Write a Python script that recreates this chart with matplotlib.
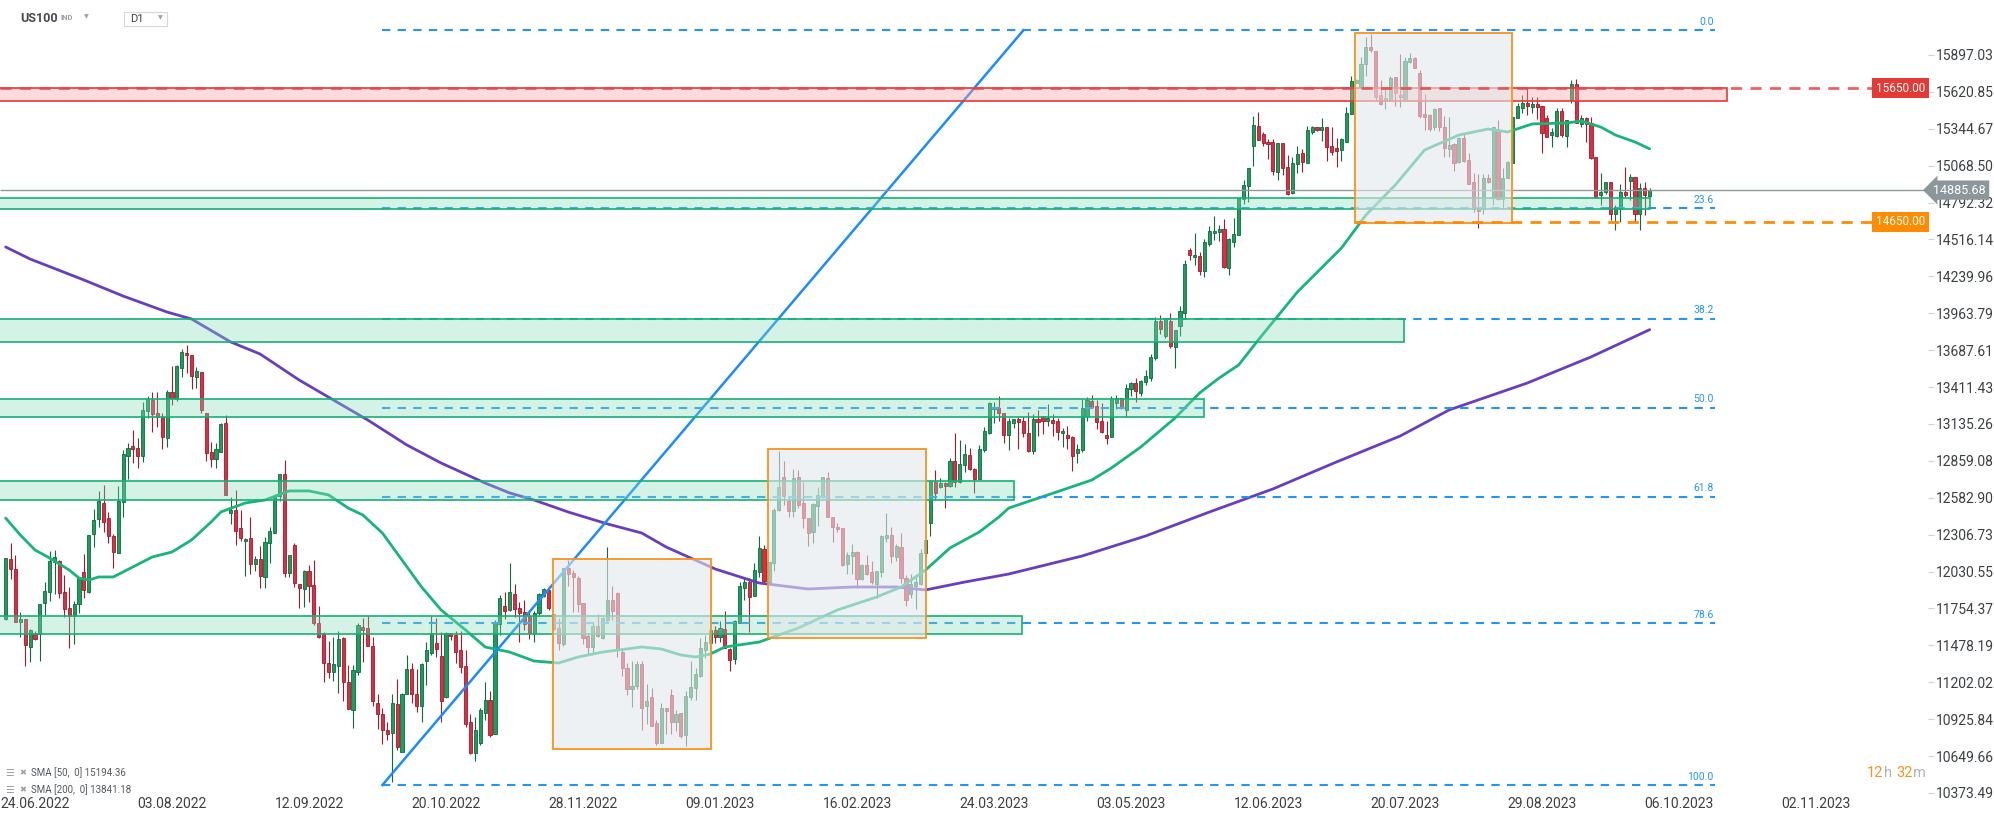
import numpy as np
import matplotlib
matplotlib.use("Agg")
import matplotlib.pyplot as plt
import matplotlib.transforms as mtransforms
from matplotlib.patches import Rectangle

plt.rcParams['font.family'] = ['Roboto', 'DejaVu Sans']

# US100 daily candles, bar 0 = 24.06.2022 (first visible bar is -6)
first_bar = -6
opens = [
    11679, 12121, 12046, 11654, 11674, 11466, 11574, 11561, 11796, 11879,
    12104, 12109, 11879, 11761, 11699, 11791, 12026, 11879, 12309, 12421,
    12541, 12429, 12296, 12166, 12554, 12899, 12971, 12959, 12899, 13231,
    13316, 13219, 13191, 13029, 13376, 13324, 13551, 13666, 13654, 13486,
    13526, 13216, 12924, 12871, 12924, 13141, 12466, 12491, 12354, 12259,
    12279, 12084, 12121, 11993, 12243, 12318, 12598, 12763, 12023, 12231,
    11938, 11898, 12036, 11931, 11643, 11568, 11343, 11281, 11326, 11531,
    11201, 10998, 11281, 11613, 11606, 11473, 11043, 10961, 10848, 10823,
    11038, 10681, 11113, 11298, 11113, 11026, 11363, 11423, 11493, 11398,
    11088, 11568, 11556, 11443, 11323, 10906, 10676, 10748, 10973, 11068,
    10811, 11638, 11773, 11743, 11863, 11756, 11726, 11698, 11568, 11718,
    11848, 11893, 11711, 11606, 11488, 12056, 12023, 11986, 11793, 11548,
    11468, 11623, 11531, 11668, 11818, 11873, 11431, 11306, 11151, 11176,
    11338, 11023, 11088, 10898, 10748, 11006, 11106, 10906, 10973, 10806,
    11093, 11156, 11248, 11443, 11498, 11593, 11543, 11598, 11451, 11373,
    11648, 11906, 11956, 11851, 12026, 12199, 11954, 12091, 12491, 12736,
    12561, 12486, 12736, 12541, 12429, 12324, 12521, 12599, 12729, 12441,
    12366, 12354, 12084, 12149, 12174, 11974, 12079, 12024, 11941, 12024,
    12279, 12304, 12141, 12211, 11984, 11861, 11921, 11941, 12166, 12396,
    12704, 12666, 12691, 12674, 12859, 12699, 12829, 12904, 12799, 12724,
    12941, 13066, 13249, 13254, 13216, 13049, 13139, 13172, 13157, 13064,
    12934, 13172, 13197, 13159, 13164, 13157, 13064, 13052, 13039, 12919,
    12939, 13197, 13307, 13272, 13157, 13052, 13039, 13294, 13327, 13239,
    13394, 13444, 13364, 13447, 13482, 13627, 13907, 13794, 13907, 13714,
    13869, 13964, 14439, 14384, 14394, 14277, 14482, 14564, 14569, 14597,
    14302, 14494, 14547, 14819, 14914, 15214, 15364, 15303, 15243, 15243,
    15023, 15235, 15055, 14865, 15078, 15160, 15090, 15323, 15360, 15335,
    15355, 15215, 15198, 15185, 15248, 15453, 15690, 15660, 15828, 15955,
    15928, 15598, 15560, 15560, 15735, 15598, 15568, 15843, 15873, 15760,
    15453, 15448, 15360, 15498, 15355, 15193, 15228, 15098, 15278, 15110,
    14948, 14748, 14748, 14973, 14823, 15335, 14818, 14978, 15090, 15423,
    15503, 15535, 15510, 15530, 15515, 15423, 15298, 15293, 15478, 15293,
    15560, 15680, 15378, 15423, 15385, 15130, 14848, 14868, 14943, 14710,
    14748, 14873, 14955, 14985, 14705, 14898, 14843,
]
highs = [
    12129, 12246, 12154, 11729, 11674, 11599, 11584, 11791, 11954, 12184,
    12191, 12115, 12004, 11916, 11809, 11991, 12161, 12304, 12499, 12636,
    12679, 12474, 12311, 12671, 12941, 12996, 13091, 13029, 13296, 13341,
    13371, 13371, 13216, 13386, 13566, 13576, 13699, 13726, 13654, 13564,
    13526, 13216, 13001, 12996, 13146, 13204, 12591, 12641, 12491, 12279,
    12436, 12146, 12221, 12286, 12361, 12611, 12763, 12868, 12156, 12248,
    11938, 12043, 12076, 12118, 11776, 11576, 11513, 11543, 11588, 11538,
    11331, 11331, 11648, 11681, 11701, 11543, 11111, 11006, 10906, 11111,
    11226, 11118, 11406, 11348, 11301, 11348, 11506, 11698, 11681, 11581,
    11576, 11568, 11588, 11588, 11443, 10968, 10943, 11006, 11201, 11138,
    11668, 11856, 11876, 12093, 11938, 11803, 11818, 11738, 11738, 11873,
    11906, 11898, 11711, 11681, 12056, 12118, 12043, 11998, 11793, 11568,
    11656, 11711, 11693, 12216, 11923, 11881, 11448, 11343, 11361, 11363,
    11363, 11186, 11156, 10918, 11048, 11006, 11151, 10993, 10973, 11136,
    11361, 11306, 11536, 11556, 11598, 11623, 11661, 11736, 11456, 11668,
    11956, 11988, 11981, 12093, 12293, 12229, 12099, 12509, 12934, 12859,
    12591, 12796, 12791, 12704, 12429, 12541, 12661, 12736, 12774, 12441,
    12391, 12354, 12179, 12236, 12186, 12084, 12154, 12111, 12034, 12304,
    12466, 12361, 12236, 12321, 12004, 12016, 11996, 12196, 12278, 12716,
    12791, 12729, 12704, 12879, 13071, 13016, 12984, 12954, 12804, 12979,
    13111, 13296, 13296, 13341, 13221, 13179, 13169, 13189, 13189, 13222,
    13207, 13239, 13197, 13284, 13209, 13182, 13107, 13119, 13047, 12989,
    13322, 13339, 13352, 13314, 13289, 13157, 13344, 13352, 13327, 13432,
    13452, 13482, 13464, 13539, 13657, 13934, 13952, 13927, 13964, 13839,
    14022, 14359, 14452, 14564, 14422, 14522, 14619, 14689, 14622, 14672,
    14527, 14677, 14827, 14964, 15052, 15439, 15472, 15323, 15265, 15268,
    15235, 15235, 15148, 15130, 15215, 15193, 15365, 15368, 15360, 15428,
    15355, 15360, 15273, 15278, 15510, 15740, 15715, 15880, 16035, 16053,
    15928, 15710, 15648, 15740, 15735, 15905, 15880, 15915, 15885, 15785,
    15603, 15453, 15498, 15498, 15440, 15435, 15235, 15285, 15310, 15160,
    15015, 15010, 15010, 15010, 15355, 15410, 15048, 15103, 15435, 15535,
    15598, 15655, 15585, 15585, 15515, 15448, 15348, 15498, 15498, 15410,
    15710, 15718, 15448, 15435, 15435, 15135, 15015, 14948, 14948, 14773,
    14935, 15060, 15010, 14985, 14940, 14948, 14898,
]
lows = [
    11666, 11978, 11654, 11541, 11324, 11354, 11521, 11361, 11704, 11811,
    11861, 11834, 11691, 11459, 11486, 11721, 11834, 11871, 12216, 12361,
    12329, 12246, 12054, 12166, 12436, 12726, 12841, 12804, 12854, 13179,
    13074, 13109, 12951, 12966, 13274, 13304, 13486, 13516, 13396, 13401,
    13216, 12861, 12811, 12809, 12924, 12601, 12386, 12231, 12261, 11999,
    12016, 12036, 11911, 11906, 12098, 12318, 12556, 11988, 11988, 11918,
    11761, 11768, 11806, 11631, 11531, 11206, 11236, 11211, 11118, 11063,
    11001, 10863, 11256, 11351, 11476, 11023, 10851, 10743, 10768, 10456,
    10693, 10681, 11113, 11043, 10981, 10906, 11181, 11406, 11388, 10901,
    11081, 11518, 11343, 11268, 10868, 10663, 10613, 10731, 10923, 10793,
    10811, 11556, 11676, 11738, 11688, 11506, 11593, 11526, 11506, 11706,
    11843, 11743, 11593, 11443, 11473, 11926, 11726, 11726, 11486, 11406,
    11423, 11538, 11523, 11656, 11668, 11388, 11248, 11106, 11018, 11151,
    10843, 10893, 10873, 10736, 10748, 10818, 10818, 10838, 10781, 10726,
    11068, 11068, 11238, 11381, 11368, 11498, 11501, 11456, 11288, 11338,
    11643, 11818, 11581, 11851, 11993, 11941, 11954, 12036, 12486, 12529,
    12441, 12441, 12504, 12354, 12224, 12246, 12374, 12579, 12441, 12249,
    12329, 12071, 12016, 12009, 11911, 11966, 12004, 11934, 11834, 11991,
    12254, 12091, 12111, 11946, 11774, 11829, 11749, 11929, 12140, 12299,
    12566, 12654, 12509, 12666, 12661, 12691, 12774, 12791, 12621, 12724,
    12929, 13059, 13141, 13154, 12996, 12941, 13102, 12947, 13039, 12922,
    12909, 13047, 13059, 13122, 13047, 13019, 12964, 12947, 12784, 12844,
    12922, 13157, 13252, 13094, 13064, 12984, 13039, 13247, 13247, 13189,
    13347, 13297, 13344, 13427, 13459, 13614, 13807, 13777, 13702, 13557,
    13794, 13927, 14359, 14327, 14247, 14239, 14464, 14509, 14502, 14302,
    14252, 14457, 14547, 14784, 14794, 15064, 15259, 15218, 15118, 14998,
    14960, 14998, 14848, 14860, 15015, 15023, 15090, 15305, 15328, 15253,
    15103, 15148, 15060, 15105, 15248, 15453, 15685, 15660, 15740, 15918,
    15560, 15523, 15490, 15555, 15515, 15510, 15565, 15835, 15798, 15423,
    15335, 15328, 15335, 15330, 15135, 15135, 15028, 15085, 15095, 14928,
    14723, 14603, 14710, 14940, 14773, 14810, 14743, 14973, 15090, 15423,
    15460, 15448, 15460, 15418, 15160, 15280, 15210, 15285, 15285, 15210,
    15535, 15385, 15360, 15248, 15118, 14830, 14773, 14860, 14660, 14585,
    14648, 14835, 14810, 14648, 14585, 14698, 14835,
]
closes = [
    12129, 12046, 11654, 11674, 11484, 11591, 11529, 11791, 11884, 12109,
    12136, 11871, 11754, 11699, 11791, 11986, 11891, 12304, 12416, 12561,
    12399, 12299, 12174, 12559, 12909, 12959, 12951, 12899, 13241, 13324,
    13209, 13191, 13034, 13374, 13329, 13571, 13674, 13649, 13491, 13534,
    13241, 12916, 12871, 12946, 13136, 12601, 12491, 12336, 12279, 12274,
    12084, 12121, 11996, 12251, 12331, 12586, 12763, 12023, 12156, 11948,
    11906, 12036, 11926, 11643, 11538, 11343, 11281, 11336, 11526, 11201,
    11001, 11293, 11631, 11593, 11476, 11063, 10961, 10848, 10818, 11043,
    10718, 11113, 11298, 11113, 11026, 11336, 11443, 11568, 11448, 11063,
    11568, 11548, 11431, 11313, 10888, 10673, 10848, 10993, 11068, 10806,
    11656, 11831, 11738, 11876, 11748, 11718, 11638, 11568, 11718, 11863,
    11901, 11756, 11598, 11493, 12056, 12011, 11988, 11786, 11536, 11468,
    11623, 11548, 11681, 11818, 11738, 11443, 11311, 11151, 11173, 11338,
    11013, 11061, 10876, 10748, 11006, 10986, 10906, 10963, 10801, 11098,
    11163, 11263, 11456, 11501, 11593, 11538, 11606, 11461, 11368, 11661,
    11923, 11956, 11843, 12043, 12206, 11959, 12099, 12491, 12661, 12599,
    12484, 12729, 12529, 12429, 12321, 12536, 12604, 12736, 12441, 12366,
    12346, 12079, 12154, 12174, 11974, 12079, 12011, 11954, 12034, 12299,
    12304, 12146, 12221, 11979, 11816, 11934, 11954, 12166, 12266, 12709,
    12621, 12691, 12674, 12859, 12699, 12834, 12909, 12796, 12724, 12946,
    13084, 13291, 13261, 13216, 13049, 13154, 13169, 13147, 13064, 12932,
    13172, 13152, 13159, 13182, 13144, 13072, 13082, 13027, 12897, 12947,
    13257, 13314, 13264, 13147, 13072, 13027, 13319, 13332, 13257, 13407,
    13444, 13382, 13459, 13497, 13634, 13907, 13844, 13919, 13719, 13839,
    13982, 14334, 14402, 14402, 14277, 14497, 14582, 14582, 14597, 14307,
    14522, 14557, 14827, 14927, 15052, 15372, 15264, 15235, 15228, 15030,
    15235, 15048, 14860, 15085, 15155, 15098, 15335, 15355, 15335, 15360,
    15210, 15173, 15178, 15265, 15460, 15703, 15710, 15828, 15960, 15935,
    15585, 15530, 15578, 15728, 15615, 15580, 15853, 15873, 15803, 15443,
    15435, 15343, 15493, 15355, 15198, 15223, 15090, 15278, 15103, 14928,
    14743, 14730, 14973, 14948, 15355, 14818, 14973, 15098, 15430, 15515,
    15535, 15515, 15530, 15510, 15315, 15280, 15323, 15478, 15298, 15410,
    15680, 15390, 15423, 15378, 15123, 14835, 14868, 14948, 14710, 14760,
    14873, 14848, 14985, 14705, 14898, 14848, 14885.68,
]

# moving averages (bar index, value)
sma50_bars = [-6, -3, 0, 3, 7, 9, 11, 13, 16, 20, 24, 28, 32, 36, 38, 43, 47, 52, 56,
              60, 64, 67, 71, 75, 79, 83, 88, 92, 97, 102, 107, 111, 116, 124, 128,
              132, 135, 138, 141, 148, 156, 164, 172, 177, 182, 187, 193, 197, 199,
              207, 216, 220, 226, 233, 238, 242, 246, 250, 258, 267, 272, 278, 284,
              291, 297, 301, 306, 313, 316, 320, 323, 327, 330]
sma50_vals = [12431, 12304, 12192, 12132, 12042, 11982, 11967, 11990, 11990, 12065,
              12140, 12177, 12267, 12402, 12477, 12544, 12566, 12634, 12634, 12604,
              12506, 12454, 12319, 12117, 11915, 11743, 11593, 11466, 11428, 11361,
              11346, 11391, 11428, 11466, 11451, 11406, 11391, 11413, 11466, 11503,
              11608, 11743, 11840, 11915, 12042, 12207, 12327, 12439, 12506, 12604,
              12716, 12806, 12963, 13180, 13367, 13479, 13577, 13764, 14123, 14452,
              14699, 14924, 15186, 15298, 15343, 15321, 15381, 15388, 15403, 15358,
              15298, 15246, 15194.36]
sma200_bars = [-6, -1, 10, 18, 27, 32, 40, 46, 54, 68, 76, 83, 92, 97, 102, 109, 117,
               124, 129, 139, 148, 158, 167, 176, 182, 190, 199, 214, 227, 240, 253,
               266, 279, 289, 305, 318, 330]
sma200_vals = [14460, 14370, 14213, 14093, 13973, 13921, 13749, 13659, 13464, 13165,
               12978, 12843, 12693, 12619, 12566, 12476, 12387, 12319, 12214, 12050,
               11945, 11900, 11915, 11915, 11893, 11952, 12012, 12147, 12297, 12476,
               12649, 12851, 13045, 13240, 13442, 13637, 13841.18]

# fibonacci retracement drawn from the Oct-2022 low to the top
fib_levels = [0.0, 23.6, 38.2, 50.0, 61.8, 78.6, 100.0]
fib_top, fib_bottom = 16082, 10433
fib_start, fib_end = 71, 343.3
trend_bars = [71, 202]
trend_vals = [10433, 16082]

# support zones (green), resistance zone (red), consolidation boxes (orange)
zone_lo = [13747, 13185, 12566, 11561, 14742]
zone_hi = [13919, 13320, 12706, 11700, 14824]
zone_end = [279.8, 239.0, 200.0, 201.7, 330.0]
res_lo, res_hi, res_end = 15553, 15650, 345.9
box_start = [105.9, 149.8, 269.8]
box_end = [138.2, 182.1, 301.9]
box_lo = [10702, 11533, 14642]
box_hi = [12125, 12946, 16059]
support_level = 14650
resistance_level = 15650
last_price = 14885.68
line_end = 375.9

price_ticks = [10373.49, 10649.66, 10925.84, 11202.02, 11478.19, 11754.37, 12030.55,
               12306.73, 12582.90, 12859.08, 13135.26, 13411.43, 13687.61, 13963.79,
               14239.96, 14516.14, 14792.32, 15068.50, 15344.67, 15620.85, 15897.03]
date_labels = ['24.06.2022', '03.08.2022', '12.09.2022', '20.10.2022', '28.11.2022',
               '09.01.2023', '16.02.2023', '24.03.2023', '03.05.2023', '12.06.2023',
               '20.07.2023', '29.08.2023', '06.10.2023', '02.11.2023']
bars_per_label = 28

GREEN, GREEN_EDGE = '#1c9d5e', '#0e6b3c'
RED, RED_EDGE = '#de2c42', '#a01b2c'
BLUE = '#2196f3'
TEXT = '#3c4043'

fig = plt.figure(figsize=(19.94, 8.21), dpi=100)
ax = fig.add_axes([0, 25 / 821, 1928 / 1994, 796 / 821])
x0, x1 = -7.153, 386.88
ax.set_xlim(x0, x1)
ax.set_ylim(10350.6, 16308.7)
for s in ax.spines.values():
    s.set_visible(False)

# candles
o = np.array(opens, float)
h = np.array(highs, float)
l = np.array(lows, float)
c = np.array(closes, float)
bars = np.arange(first_bar, first_bar + len(c))
up = c >= o
for mask, face, edge in [(up, GREEN, GREEN_EDGE), (~up, RED, RED_EDGE)]:
    ax.vlines(bars[mask], l[mask], h[mask], color=edge, lw=0.8, zorder=2)
    body_bottom = np.minimum(o, c)[mask]
    body_h = np.maximum(np.abs(c - o)[mask], 5)
    ax.bar(bars[mask], body_h, bottom=body_bottom, width=0.64, color=face,
           edgecolor=edge, linewidth=0.6, zorder=3)

# moving averages
ax.plot(sma200_bars, sma200_vals, color='#6a3dbf', lw=2.0, zorder=4, solid_capstyle='round')
ax.plot(sma50_bars, sma50_vals, color='#16b57a', lw=2.0, zorder=4, solid_capstyle='round')

# fibonacci
for lvl in fib_levels:
    price = fib_top - lvl / 100 * (fib_top - fib_bottom)
    ax.hlines(price, fib_start, fib_end, colors=BLUE, lw=1.5, linestyles=(0, (4, 3.5)), zorder=5)
    ax.annotate('%.1f' % lvl, (fib_end - 0.2, price), xytext=(0, 2.5), textcoords='offset points',
                ha='right', va='bottom', color=BLUE, fontsize=7.5)
ax.plot(trend_bars, trend_vals, color='#1a8cff', lw=1.8, zorder=5)

# horizontal levels
ax.hlines(last_price, x0, x1, colors='#8f9a9e', lw=1.0, zorder=5)
ax.hlines(resistance_level, x0, line_end, colors='#e8474a', lw=2.0,
          linestyles=(0, (4, 3)), alpha=0.85, zorder=7)
ax.hlines(support_level, box_start[2], line_end, colors='#ff8c00', lw=2.0,
          linestyles=(0, (4, 3)), zorder=7)

# zones and boxes
for lo, hi, end in zip(zone_lo, zone_hi, zone_end):
    ax.add_patch(Rectangle((x0 - 2, lo), end - x0 + 2, hi - lo, fc=(0.52, 0.86, 0.73, 0.35),
                           ec='#14b075', lw=1.2, zorder=6))
ax.add_patch(Rectangle((x0 - 2, res_lo), res_end - x0 + 2, res_hi - res_lo,
                       fc=(0.96, 0.65, 0.65, 0.4), ec='#e53935', lw=1.2, zorder=6))
for bs, be, lo, hi in zip(box_start, box_end, box_lo, box_hi):
    ax.add_patch(Rectangle((bs, lo), be - bs, hi - lo, fc=(0.89, 0.91, 0.92, 0.6),
                           ec='#f7931e', lw=1.3, zorder=6))

# price tags
blend = mtransforms.blended_transform_factory(ax.transAxes, ax.transData)
ax.text(0.98574, resistance_level, '%.2f' % resistance_level, transform=blend, ha='center',
        va='center', color='white', fontsize=8.5, zorder=9,
        bbox=dict(boxstyle='square,pad=0.3', fc='#e53935', ec='none'))
ax.text(0.98574, support_level, '%.2f' % support_level, transform=blend, ha='center',
        va='center', color='white', fontsize=8.5, zorder=9,
        bbox=dict(boxstyle='square,pad=0.3', fc='#ff8c00', ec='none'))
ax.text(1.0165, last_price, '%.2f' % last_price, transform=blend, ha='center', va='center',
        color='white', fontsize=9, zorder=10, clip_on=False,
        bbox=dict(boxstyle='larrow,pad=0.25', fc='#8c979b', ec='none'))

# axes ticks
ax.yaxis.tick_right()
ax.set_yticks(price_ticks)
ax.set_yticklabels(['%.2f' % p for p in price_ticks])
ax.tick_params(axis='y', length=4, width=0.8, color='#cfd3d6', pad=2, labelsize=10,
               labelcolor=TEXT)
ax.set_xticks([i * bars_per_label for i in range(len(date_labels))])
ax.set_xticklabels(date_labels)
ax.tick_params(axis='x', length=0, pad=1, labelsize=10, labelcolor=TEXT)
for lab in ax.get_xticklabels() + ax.get_yticklabels():
    lab.set_family(['Liberation Sans Narrow', 'Roboto'])

# header
fig.text(20 / 1994, 1 - 18 / 821, 'US100', fontsize=9, fontweight='bold', color='#45494d', va='center')
fig.text(60 / 1994, 1 - 18 / 821, 'IND', fontsize=5.5, fontweight='bold', color='#9aa0a6', va='center')
fig.text(84 / 1994, 1 - 17 / 821, '\u25bc', fontsize=4.5, color='#9aa0a6', va='center')
fig.patches.append(Rectangle((124 / 1994, 1 - 26 / 821), 43 / 1994, 14 / 821, transform=fig.transFigure,
                             fc='white', ec='#d5d8db', lw=0.8))
fig.text(130 / 1994, 1 - 19 / 821, 'D1', fontsize=8, color=TEXT, va='center')
fig.text(158 / 1994, 1 - 18 / 821, '\u25bc', fontsize=4.5, color='#9aa0a6', va='center')

# indicator legend
for yy, txt in [(773, 'SMA [50,  0] 15194.36'), (790, 'SMA [200,  0] 13841.18')]:
    fig.text(5 / 1994, 1 - yy / 821, '\u2630', fontsize=7, color='#9aa0a6', va='center')
    fig.text(19 / 1994, 1 - yy / 821, '\u2716', fontsize=6, color='#9aa0a6', va='center')
    fig.text(31 / 1994, 1 - yy / 821, txt, fontsize=7, color='#555a5e', va='center')

# candle countdown
for xx, txt, col in [(1867, '12', '#f7931e'), (1884, 'h', '#b0b4b8'), (1896, '32', '#f7931e'), (1913, 'm', '#b0b4b8')]:
    fig.text(xx / 1994, 1 - 773 / 821, txt, fontsize=10.5, color=col, va='center')

fig.savefig('out.png', dpi=100, facecolor='white')
